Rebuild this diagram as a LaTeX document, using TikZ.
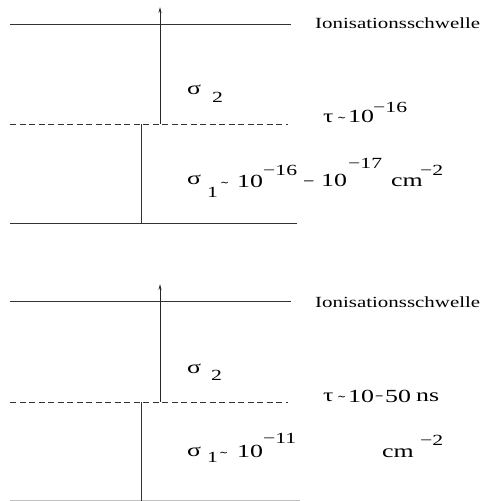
\documentclass[tikz,border=0pt]{standalone}
\usepackage{graphicx}
\usepackage{fontspec}
\setmainfont{Liberation Serif}
\newfontfamily\tildefont{DejaVu Serif}
\usetikzlibrary{arrows.meta}
\newcommand{\hs}[1]{\scalebox{1.4}[1]{#1}}
\newcommand{\ionis}{\scalebox{1.35}[1]{Ionisationsschwelle}}
\newcommand{\approxsign}{\tildefont ∼}
\begin{document}
\begin{tikzpicture}[x=1pt,y=-1pt,
  lvl/.style={draw=black!80, line width=0.8pt},
  dashlvl/.style={draw=black!80, line width=0.8pt, dash pattern=on 6pt off 3.5pt},
  faint/.style={draw=black!25, line width=0.8pt},
  exc/.style={draw=black!85, line width=0.9pt, -{Stealth[length=6pt,width=3pt]}},
  txt/.style={anchor=base west, inner sep=0pt, font=\fontsize{18.5}{20}\selectfont},
  sm/.style={anchor=base west, inner sep=0pt, font=\fontsize{15.5}{17}\selectfont},
  tl/.style={anchor=base west, inner sep=0pt, font=\fontsize{11}{13}\selectfont}]
\useasboundingbox (0,0) rectangle (485,501);
% ---------- upper scheme ----------
\coordinate (aIl) at (10,24);   \coordinate (aIr) at (291,24);
\coordinate (aMl) at (10,124);  \coordinate (aMr) at (288,124);
\coordinate (aGl) at (10,223);  \coordinate (aGr) at (297,223);
\coordinate (aV0) at (141,223); \coordinate (aV1) at (141,124);
\coordinate (aA0) at (160,124); \coordinate (aA1) at (160,7);
\draw[lvl] (aIl) -- (aIr);
\draw[dashlvl] (aMl) -- (aMr);
\draw[lvl] (aGl) -- (aGr);
\draw[lvl] (aV0) -- (aV1);
\draw[exc] (aA0) -- (aA1);
\node[sm]  (aion) at (315,28) {\ionis};
\node[txt] (as2)  at (187,94) {\hs{σ}};
\node[sm]  (as2i) at (212,102) {\hs{2}};
\node[txt] (atau) at (323,122) {\hs{τ}};
\node[tl]  (atl)  at (337,121) {\approxsign};
\node[txt] (at10) at (348,122) {\hs{10}};
\node[sm]  (atex) at (373,112) {\hs{−16}};
\node[txt] (as1)  at (187,184) {\hs{σ}};
\node[sm]  (as1i) at (207,197) {\hs{1}};
\node[tl]  (asl)  at (220,186) {\approxsign};
\node[txt] (a10a) at (237,187) {\hs{10}};
\node[sm]  (aexa) at (263,175) {\hs{−16}};
\node[txt] (amin) at (303,187) {\scalebox{1.1}[1]{−}};
\node[txt] (a10b) at (321,186) {\hs{10}};
\node[sm]  (aexb) at (348,168) {\hs{−17}};
\node[txt] (acm)  at (391,186) {\hs{cm}};
\node[sm]  (aexc) at (420,175) {\hs{−2}};
% ---------- lower scheme ----------
\coordinate (bIl) at (10,301);  \coordinate (bIr) at (291,301);
\coordinate (bMl) at (10,402);  \coordinate (bMr) at (288,402);
\coordinate (bGl) at (10,500);  \coordinate (bGr) at (300,500);
\coordinate (bV0) at (141,501); \coordinate (bV1) at (141,402);
\coordinate (bA0) at (160,402); \coordinate (bA1) at (160,284);
\draw[lvl] (bIl) -- (bIr);
\draw[dashlvl] (bMl) -- (bMr);
\draw[faint] (bGl) -- (bGr);
\draw[lvl] (bV0) -- (bV1);
\draw[exc] (bA0) -- (bA1);
\node[sm]  (bion) at (315,307) {\ionis};
\node[txt] (bs2)  at (187,373) {\hs{σ}};
\node[sm]  (bs2i) at (211,380) {\hs{2}};
\node[txt] (btau) at (323,401) {\hs{τ}};
\node[tl]  (btl)  at (337,400) {\approxsign};
\node[txt] (bt10) at (348,402) {\hs{10}};
\node[txt] (btmi) at (375,402) {\scalebox{0.8}[1]{−}};
\node[txt] (bt50) at (385,402) {\hs{50}};
\node[txt] (bns)  at (416,401) {\hs{ns}};
\node[txt] (bs1)  at (187,456) {\hs{σ}};
\node[sm]  (bs1i) at (207,462) {\hs{1}};
\node[tl]  (bsl)  at (219,456) {\approxsign};
\node[txt] (b10)  at (237,457) {\hs{10}};
\node[sm]  (bex)  at (263,443) {\hs{−11}};
\node[txt] (bcm)  at (382,457) {\hs{cm}};
\node[sm]  (bexc) at (420,445) {\hs{−2}};
\end{tikzpicture}
\end{document}
